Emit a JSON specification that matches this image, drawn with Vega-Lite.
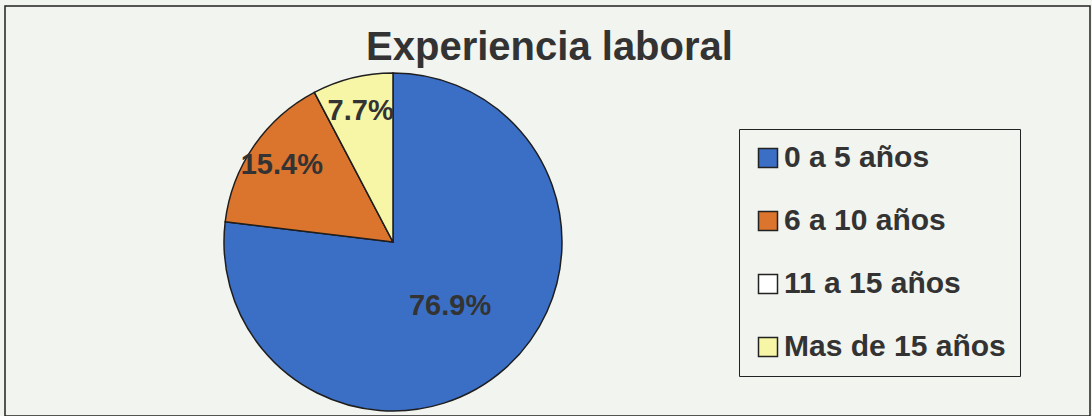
{
  "$schema": "https://vega.github.io/schema/vega-lite/v6.json",
  "width": 1085,
  "height": 410,
  "padding": {"left": 5, "top": 6, "right": 2, "bottom": 0},
  "autosize": {"type": "none"},
  "background": "#f2f4ef",
  "title": {
    "text": "Experiencia laboral",
    "anchor": "middle",
    "frame": "group",
    "orient": "top",
    "offset": -94,
    "baseline": "alphabetic",
    "dx": 2,
    "font": "Liberation Sans",
    "fontSize": 40,
    "fontWeight": "bold",
    "color": "#333333"
  },
  "config": {
    "view": {"stroke": "#222222", "strokeWidth": 1.5},
    "font": "Liberation Sans"
  },
  "data": {
    "values": [
      {"categoria": "0 a 5 años", "pct": 0.769, "orden": 1},
      {"categoria": "6 a 10 años", "pct": 0.154, "orden": 2},
      {"categoria": "11 a 15 años", "pct": 0.0, "orden": 3},
      {"categoria": "Mas de 15 años", "pct": 0.077, "orden": 4}
    ]
  },
  "encoding": {
    "x": {"datum": 0.3576, "type": "quantitative", "scale": {"domain": [0, 1]}, "axis": null},
    "y": {"datum": 0.4244, "type": "quantitative", "scale": {"domain": [0, 1]}, "axis": null},
    "theta": {"field": "pct", "type": "quantitative", "stack": true},
    "order": {"field": "orden", "type": "quantitative"}
  },
  "layer": [
    {
      "mark": {"type": "arc", "outerRadius": 169, "stroke": "#1e1e1e", "strokeWidth": 1.5},
      "encoding": {
        "color": {
          "field": "categoria",
          "type": "nominal",
          "sort": ["0 a 5 años", "6 a 10 años", "11 a 15 años", "Mas de 15 años"],
          "scale": {
            "domain": ["0 a 5 años", "6 a 10 años", "11 a 15 años", "Mas de 15 años"],
            "range": ["#3b6fc6", "#db742d", "#ffffff", "#f7f6a6"]
          },
          "legend": {
            "title": null,
            "orient": "none",
            "legendX": 734,
            "legendY": 123,
            "strokeColor": "#222222",
            "padding": 14,
            "rowPadding": 33,
            "symbolType": "square",
            "symbolSize": 361,
            "symbolStrokeColor": "#222222",
            "symbolStrokeWidth": 1.5,
            "symbolOpacity": 1,
            "labelFont": "Liberation Sans",
            "labelFontSize": 30,
            "labelFontWeight": "bold",
            "labelColor": "#333333",
            "labelOffset": 1,
            "labelLimit": 0
          }
        }
      }
    },
    {
      "mark": {"type": "text", "radius": 86, "font": "Liberation Sans", "fontSize": 29, "fontWeight": "bold", "color": "#333333", "align": "center", "baseline": "middle"},
      "encoding": {
        "text": {"condition": {"test": "datum.pct > 0.5", "field": "pct", "type": "quantitative", "format": ".1%"}, "value": ""}
      }
    },
    {
      "mark": {"type": "text", "radius": 135, "font": "Liberation Sans", "fontSize": 29, "fontWeight": "bold", "color": "#333333", "align": "center", "baseline": "middle"},
      "encoding": {
        "text": {"condition": {"test": "datum.pct > 0 && datum.pct <= 0.5", "field": "pct", "type": "quantitative", "format": ".1%"}, "value": ""}
      }
    }
  ]
}
